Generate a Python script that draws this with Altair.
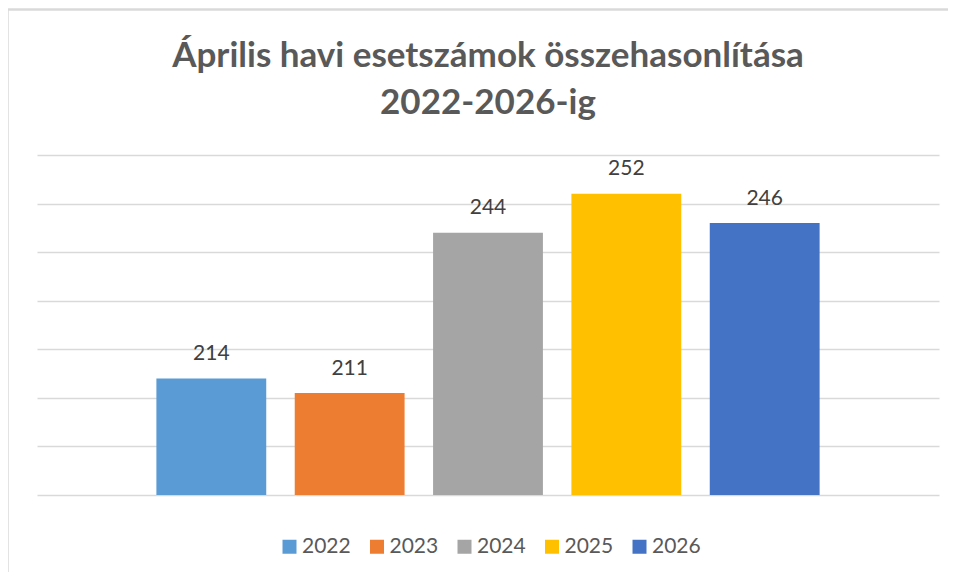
import altair as alt
import pandas as pd

years = ["2022", "2023", "2024", "2025", "2026"]
values = [214, 211, 244, 252, 246]
colors = ["#5B9BD5", "#ED7D31", "#A5A5A5", "#FFC000", "#4472C4"]

df = pd.DataFrame({"year": years, "value": values})

FONT = "Lato"

x_enc = alt.X("year:N", axis=None,
              scale=alt.Scale(paddingInner=0.206, paddingOuter=0.863))
y_scale = alt.Scale(domain=[190, 260], nice=False, zero=False)

bars = alt.Chart(df).mark_bar().encode(
    x=x_enc,
    y=alt.Y("value:Q", scale=y_scale,
            axis=alt.Axis(values=[190, 200, 210, 220, 230, 240, 250, 260],
                          labels=False, ticks=False, domain=False, grid=True,
                          gridColor="#d9d9d9", gridWidth=1.5, title=None)),
    y2=alt.datum(190),
    color=alt.Color("year:N", scale=alt.Scale(domain=years, range=colors),
                    legend=alt.Legend(title=None, orient="none", direction="horizontal",
                                      columns=5, legendX=242, legendY=381,
                                      symbolType="square", symbolSize=196,
                                      symbolStrokeWidth=0, labelFont=FONT,
                                      labelFontSize=21, labelColor="#595959",
                                      columnPadding=15.5, labelOffset=2, padding=0)),
)

labels = alt.Chart(df).mark_text(font=FONT, fontSize=21, color="#404040",
                                 baseline="alphabetic", dy=-18.5).encode(
    x=x_enc,
    y=alt.Y("value:Q", scale=y_scale),
    text=alt.Text("value:Q"),
)

border_top = alt.Chart(df).mark_rule(color="#d9d9d9", strokeWidth=1.5).encode(
    x=alt.value(-30), x2=alt.value(960), y=alt.value(-145.5))
border_left = alt.Chart(df).mark_rule(color="#d9d9d9", strokeWidth=1.5).encode(
    x=alt.value(-29.5), y=alt.value(-146), y2=alt.value(500))

chart = alt.layer(border_top, border_left, bars, labels).properties(
    width=902, height=340,
    autosize=alt.AutoSizeParams(type="none"),
    padding={"left": 29, "top": 147, "right": 9, "bottom": 77},
    title=alt.TitleParams(
        ["Április havi esetszámok összehasonlítása", "2022-2026-ig"],
        font=FONT, fontSize=35, fontWeight="bold", color="#595959",
        anchor="middle", lineHeight=47, offset=0, dy=113),
).configure_view(stroke=None)

chart.save("out.html", embed_options={"renderer": "svg", "actions": False})
